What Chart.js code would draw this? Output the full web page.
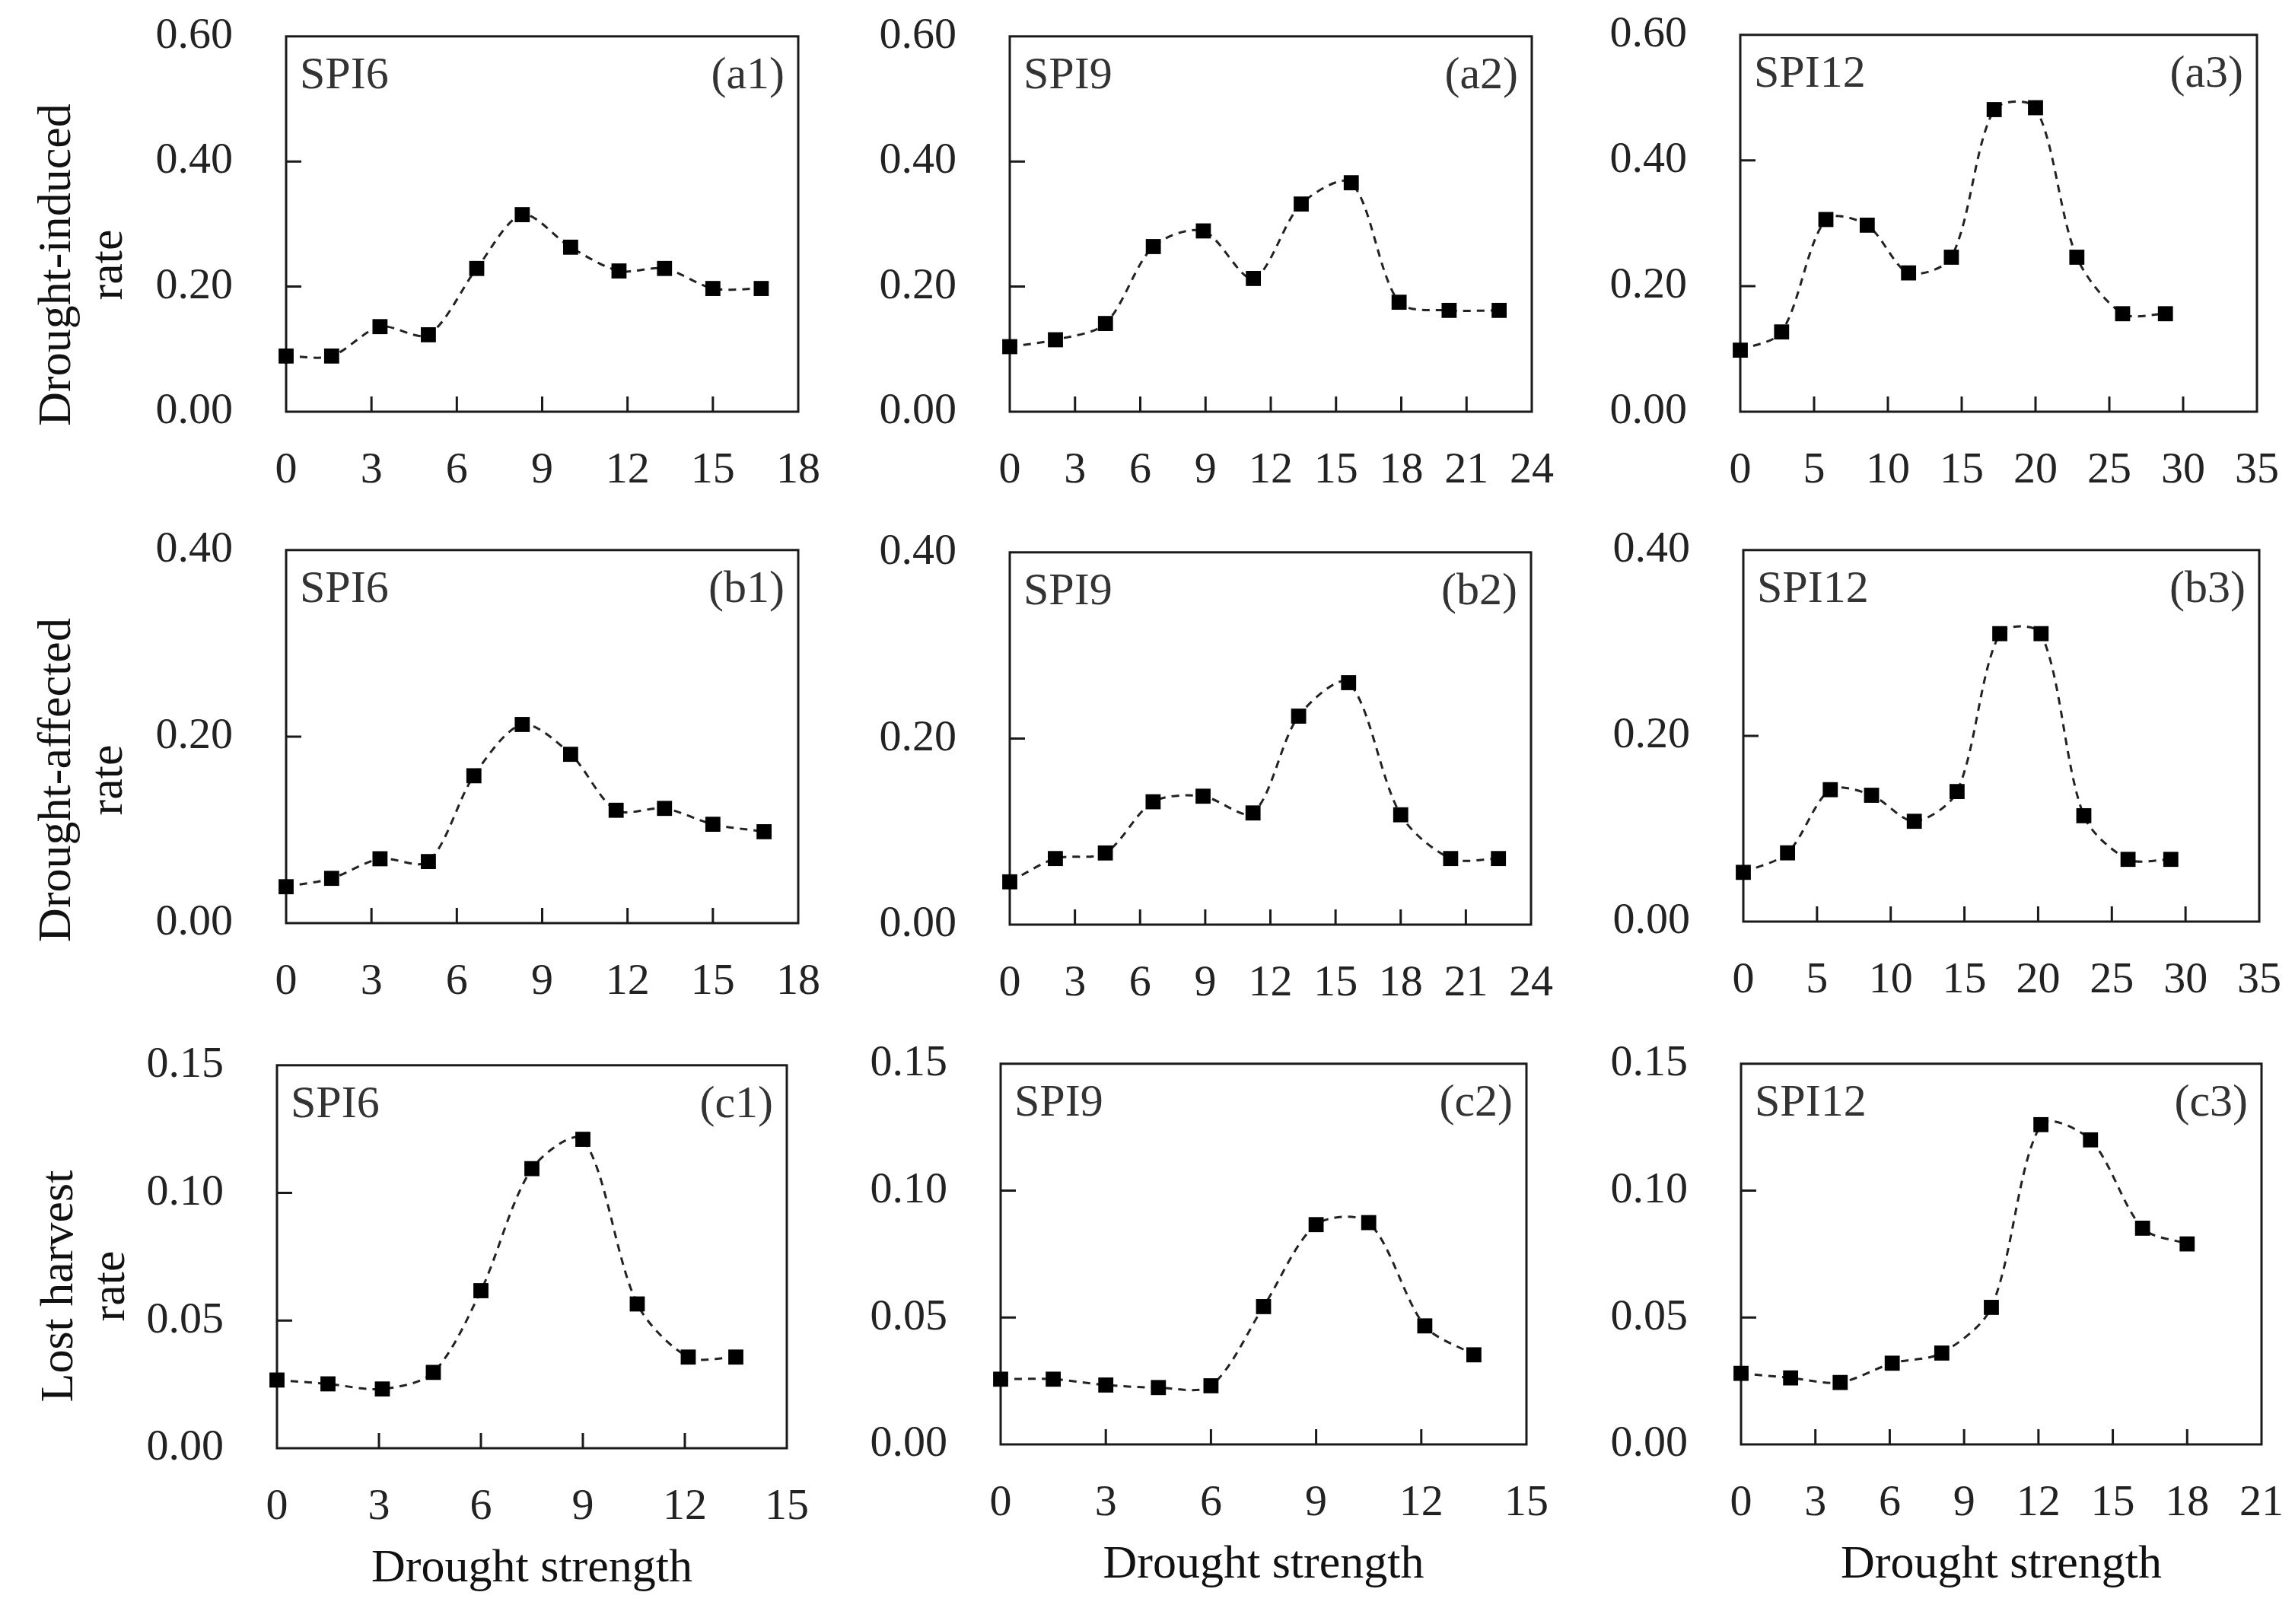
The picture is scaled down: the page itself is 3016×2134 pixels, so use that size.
<!DOCTYPE html>
<html>
<head>
<meta charset="utf-8">
<title>Drought strength panels</title>
<script src="https://cdn.jsdelivr.net/npm/chart.js@4.4.1/dist/chart.umd.min.js"></script>
<style>
  html, body { margin: 0; padding: 0; background: #fff; }
  body { width: 3016px; height: 2134px; position: relative; overflow: hidden;
         font-family: 'Liberation Serif', 'Times New Roman', serif; }
  canvas { position: absolute; }
  .ytitle { position: absolute; font-size: 62px; line-height: 68px; color: #111;
            text-align: center; white-space: nowrap;
            transform: translate(-50%, -50%) rotate(-90deg); }
</style>
</head>
<body>
<div class="ytitle" style="left:105px; top:348px">Drought-induced<br>rate</div>
<div class="ytitle" style="left:105px; top:1025px">Drought-affected<br>rate</div>
<div class="ytitle" style="left:108px; top:1690px">Lost harvest<br>rate</div>

<script>
// ---- data ----
// (a) drought-induced rate
const a1X = [0, 1.6, 3.3, 5.0, 6.7, 8.3, 10.0, 11.7, 13.3, 15.0, 16.7];
const a1Y = [0.089, 0.089, 0.136, 0.123, 0.229, 0.315, 0.263, 0.225, 0.229, 0.197, 0.197];
const a2X = [0, 2.1, 4.4, 6.6, 8.9, 11.2, 13.4, 15.7, 17.9, 20.2, 22.5];
const a2Y = [0.104, 0.115, 0.141, 0.264, 0.289, 0.213, 0.332, 0.366, 0.175, 0.162, 0.162];
const a3X = [0, 2.8, 5.8, 8.6, 11.4, 14.3, 17.2, 20.0, 22.8, 25.9, 28.8];
const a3Y = [0.098, 0.127, 0.306, 0.297, 0.221, 0.246, 0.481, 0.484, 0.246, 0.156, 0.156];

// (b) drought-affected rate
const b1X = [0, 1.6, 3.3, 5.0, 6.6, 8.3, 10.0, 11.6, 13.3, 15.0, 16.8];
const b1Y = [0.039, 0.048, 0.069, 0.066, 0.158, 0.213, 0.181, 0.121, 0.123, 0.106, 0.098];
const b2X = [0, 2.1, 4.4, 6.6, 8.9, 11.2, 13.3, 15.6, 18.0, 20.3, 22.5];
const b2Y = [0.046, 0.071, 0.077, 0.132, 0.138, 0.120, 0.224, 0.260, 0.118, 0.071, 0.071];
const b3X = [0, 3.0, 5.9, 8.7, 11.6, 14.5, 17.4, 20.2, 23.1, 26.1, 29.0];
const b3Y = [0.053, 0.074, 0.142, 0.136, 0.108, 0.140, 0.310, 0.310, 0.114, 0.067, 0.067];

// (c) lost harvest rate
const c1X = [0, 1.5, 3.1, 4.6, 6.0, 7.5, 9.0, 10.6, 12.1, 13.5];
const c1Y = [0.0267, 0.0252, 0.0232, 0.0297, 0.0617, 0.1095, 0.121, 0.0565, 0.0357, 0.0357];
const c2X = [0, 1.5, 3.0, 4.5, 6.0, 7.5, 9.0, 10.5, 12.1, 13.5];
const c2Y = [0.0257, 0.0257, 0.0234, 0.0224, 0.0231, 0.0543, 0.0866, 0.0874, 0.0467, 0.0353];
const c3X = [0, 2.0, 4.0, 6.1, 8.1, 10.1, 12.1, 14.1, 16.2, 18.0];
const c3Y = [0.028, 0.0262, 0.0244, 0.032, 0.036, 0.054, 0.126, 0.120, 0.0852, 0.079];

// tick values
const xTicks15 = [0, 3, 6, 9, 12, 15];
const xTicks18 = [0, 3, 6, 9, 12, 15, 18];
const xTicks21 = [0, 3, 6, 9, 12, 15, 18, 21];
const xTicks24 = [0, 3, 6, 9, 12, 15, 18, 21, 24];
const xTicks35 = [0, 5, 10, 15, 20, 25, 30, 35];
const yTicksA = [0, 0.2, 0.4, 0.6];
const yTicksB = [0, 0.2, 0.4];
const yTicksC = [0, 0.05, 0.1, 0.15];

const xTitle = 'Drought strength';

// panel layout: box = [left, top, width, height] of the plot frame
const panels = [
    { tag: 'a1', spi: 'SPI6',  x: a1X, y: a1Y, xt: xTicks18, yt: yTicksA, box: [376, 48, 673, 493] },
    { tag: 'a2', spi: 'SPI9',  x: a2X, y: a2Y, xt: xTicks24, yt: yTicksA, box: [1327, 48, 686, 493] },
    { tag: 'a3', spi: 'SPI12', x: a3X, y: a3Y, xt: xTicks35, yt: yTicksA, box: [2287, 46, 679, 495] },
    { tag: 'b1', spi: 'SPI6',  x: b1X, y: b1Y, xt: xTicks18, yt: yTicksB, box: [376, 723, 673, 490] },
    { tag: 'b2', spi: 'SPI9',  x: b2X, y: b2Y, xt: xTicks24, yt: yTicksB, box: [1327, 726, 685, 489] },
    { tag: 'b3', spi: 'SPI12', x: b3X, y: b3Y, xt: xTicks35, yt: yTicksB, box: [2291, 723, 678, 488] },
    { tag: 'c1', spi: 'SPI6',  x: c1X, y: c1Y, xt: xTicks15, yt: yTicksC, box: [364, 1400, 670, 503], title: true },
    { tag: 'c2', spi: 'SPI9',  x: c2X, y: c2Y, xt: xTicks15, yt: yTicksC, box: [1315, 1398, 691, 500], title: true },
    { tag: 'c3', spi: 'SPI12', x: c3X, y: c3Y, xt: xTicks21, yt: yTicksC, box: [2288, 1398, 684, 500], title: true }
];

const FONT = "'Liberation Serif', 'Times New Roman', serif";
Chart.defaults.font.family = FONT;

const AXIS_W = 200;   // room for y tick labels
const PAD = 10;

// frame, inner tick marks and the two corner labels
const framePlugin = {
    id: 'frame',
    beforeDatasetsDraw(chart, args, opts) {
        const { ctx, chartArea: a, scales } = chart;
        ctx.save();
        ctx.strokeStyle = '#1a1a1a';
        ctx.lineWidth = 3;
        ctx.strokeRect(a.left, a.top, a.right - a.left, a.bottom - a.top);

        ctx.beginPath();
        scales.y.ticks.slice(1, -1).forEach(t => {
            const py = scales.y.getPixelForValue(t.value);
            ctx.moveTo(a.left, py);
            ctx.lineTo(a.left + 20, py);
        });
        scales.x.ticks.slice(1, -1).forEach(t => {
            const px = scales.x.getPixelForValue(t.value);
            ctx.moveTo(px, a.bottom);
            ctx.lineTo(px, a.bottom - 20);
        });
        ctx.stroke();

        ctx.fillStyle = '#333';
        ctx.font = '60px ' + FONT;
        ctx.textBaseline = 'alphabetic';
        ctx.textAlign = 'left';
        ctx.fillText(opts.spi, a.left + 18, a.top + 68);
        ctx.textAlign = 'right';
        ctx.fillText('(' + opts.tag + ')', a.right - 18, a.top + 68);
        ctx.restore();
    }
};

function makePanel(p) {
    const [L, T, W, H] = p.box;
    const xh = p.title ? 196 : 120;

    const canvas = document.createElement('canvas');
    const cw = W + AXIS_W + 80;
    const ch = H + 80 + xh;
    canvas.width = cw;
    canvas.height = ch;
    canvas.style.width = cw + 'px';
    canvas.style.height = ch + 'px';
    document.body.appendChild(canvas);

    const points = p.x.map((v, i) => ({ x: v, y: p.y[i] }));

    const chart = new Chart(canvas, {
        type: 'line',
        data: {
            datasets: [{
                data: points,
                borderColor: '#222',
                borderWidth: 3,
                borderDash: [10, 8],
                tension: 0.3,
                fill: false,
                clip: false,
                pointStyle: 'rect',
                pointRadius: 14,
                pointHoverRadius: 14,
                pointBackgroundColor: '#000',
                pointBorderWidth: 0
            }]
        },
        options: {
            responsive: false,
            maintainAspectRatio: false,
            animation: false,
            devicePixelRatio: 1,
            layout: { padding: PAD },
            plugins: {
                legend: { display: false },
                tooltip: { enabled: false },
                frame: { spi: p.spi, tag: p.tag }
            },
            scales: {
                x: {
                    type: 'linear',
                    min: p.xt[0],
                    max: p.xt[p.xt.length - 1],
                    afterBuildTicks: scale => { scale.ticks = p.xt.map(v => ({ value: v })); },
                    afterFit: scale => { scale.height = xh; },
                    grid: { display: false, drawTicks: false },
                    border: { display: false },
                    ticks: {
                        autoSkip: false,
                        maxRotation: 0,
                        padding: 43,
                        color: '#222',
                        font: { size: 58 }
                    },
                    title: {
                        display: !!p.title,
                        text: xTitle,
                        color: '#111',
                        padding: 0,
                        font: { size: 62 }
                    }
                },
                y: {
                    type: 'linear',
                    min: p.yt[0],
                    max: p.yt[p.yt.length - 1],
                    afterBuildTicks: scale => { scale.ticks = p.yt.map(v => ({ value: v })); },
                    afterFit: scale => { scale.width = AXIS_W; },
                    grid: { display: false, drawTicks: false },
                    border: { display: false },
                    ticks: {
                        padding: 70,
                        color: '#222',
                        font: { size: 58 },
                        callback: v => Number(v).toFixed(2)
                    }
                }
            }
        },
        plugins: [framePlugin]
    });

    // shift and resize the canvas so the plot frame lands on the box
    for (let k = 0; k < 3; k++) {
        const ca = chart.chartArea;
        const curW = chart.width, curH = chart.height;
        const newW = Math.round(curW + W - (ca.right - ca.left));
        const newH = Math.round(curH + H - (ca.bottom - ca.top));
        if (newW === curW && newH === curH) break;
        chart.resize(newW, newH);
    }
    const ca2 = chart.chartArea;
    canvas.style.left = Math.round(L - ca2.left) + 'px';
    canvas.style.top = Math.round(T - ca2.top) + 'px';
}

panels.forEach(makePanel);
</script>
</body>
</html>
